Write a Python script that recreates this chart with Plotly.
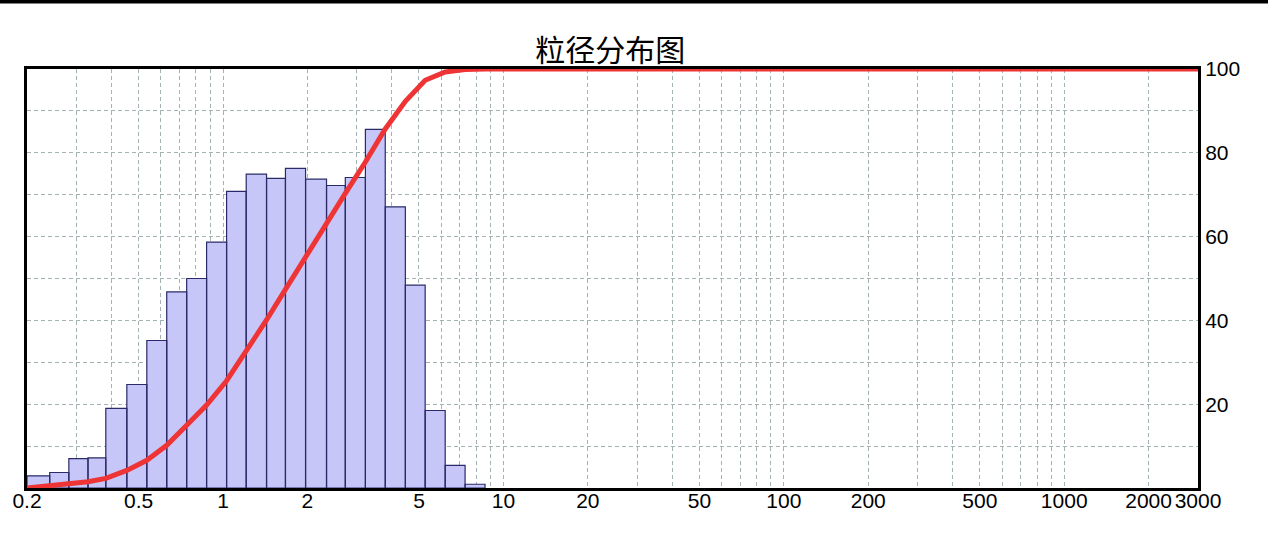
import plotly.graph_objects as go

# ---- data ----
bin_edges = [0.200, 0.241, 0.282, 0.330, 0.382, 0.454, 0.535, 0.630, 0.742, 0.874,
             1.03, 1.21, 1.43, 1.67, 1.97, 2.34, 2.73, 3.22, 3.79, 4.47, 5.26,
             6.20, 7.30, 8.60]
bar_heights = [2.9, 3.7, 7.0, 7.2, 19.0, 24.7, 35.2, 46.8, 50.0, 58.7, 70.8, 74.9,
               73.9, 76.3, 73.7, 72.2, 74.1, 85.6, 67.1, 48.4, 18.5, 5.4, 0.9]
cum_x = bin_edges + [3000]
cum_y = [0, 0.5, 1.0, 1.5, 2.3, 4.2, 6.6, 10.2, 15.0, 19.8, 25.6, 32.6, 40.1, 47.4,
         55.2, 62.8, 70.3, 77.8, 85.7, 92.3, 97.3, 99.3, 99.9, 100, 100]
x_tick_vals = [0.2, 0.5, 1, 2, 5, 10, 20, 50, 100, 200, 500, 1000, 2000, 3000]
x_tick_text = ["0.2", "0.5", "1", "2", "5", "10", "20", "50", "100", "200", "500",
               "1000", "2000", "3000"]
x_grid_vals = [0.3, 0.4, 0.5, 0.6, 0.7, 0.8, 0.9, 1, 2, 3, 4, 5, 6, 7, 8, 9,
               10, 20, 30, 40, 50, 60, 70, 80, 90, 100, 200, 300, 400, 500, 600,
               700, 800, 900, 1000, 2000]
y_tick_vals = [20, 40, 60, 80, 100]
y_minor_vals = [10, 30, 50, 70, 90]
title_text = "粒径分布图"

# ---- build bar polygons ----
bx, by = [], []
for i, h in enumerate(bar_heights):
    x0, x1 = bin_edges[i], bin_edges[i + 1]
    bx += [x0, x0, x1, x1, x0, None]
    by += [0, h, h, 0, 0, None]

GRID = "#a3b3b3"
DASH = "4px,3px"

fig = go.Figure()
fig.add_trace(go.Scatter(
    x=bx, y=by, mode="lines", fill="toself",
    fillcolor="#c6c6f8", line=dict(color="#2a2a68", width=1.2),
    hoverinfo="skip", showlegend=False))
fig.add_trace(go.Scatter(
    x=cum_x, y=cum_y, mode="lines",
    line=dict(color="#ee3434", width=5),
    cliponaxis=False, showlegend=False))

fig.update_layout(
    width=1268, height=546,
    margin=dict(l=23, r=70, t=69, b=58),
    paper_bgcolor="white", plot_bgcolor="white",
    showlegend=False,
    title=dict(text=title_text, x=0.498, xref="paper", y=1 - 50 / 546,
               yref="container", xanchor="center", yanchor="middle",
               font=dict(family="Noto Sans CJK SC", size=30, color="black")),
    font=dict(family="Liberation Sans, Arial", size=21, color="black"),
    xaxis=dict(
        type="log", range=[-0.69897, 3.47712],
        tickmode="array", tickvals=x_tick_vals, ticktext=x_tick_text,
        tickangle=0,
        showgrid=True, gridcolor=GRID, griddash=DASH, gridwidth=1,
        minor=dict(tickvals=x_grid_vals, showgrid=True, gridcolor=GRID,
                   griddash=DASH, gridwidth=1, ticks=""),
        showline=True, mirror=True, linecolor="black", linewidth=3,
        ticks="", zeroline=False, layer="below traces",
        ticklabelstandoff=-8, tickfont=dict(size=21)),
    yaxis=dict(
        side="right", range=[0, 100],
        tickmode="array", tickvals=y_tick_vals,
        showgrid=True, gridcolor=GRID, griddash=DASH, gridwidth=1,
        minor=dict(tickvals=y_minor_vals, showgrid=True, gridcolor=GRID,
                   griddash=DASH, gridwidth=1, ticks=""),
        showline=True, mirror=True, linecolor="black", linewidth=3,
        ticks="", zeroline=False, layer="below traces",
        ticklabelstandoff=0, tickfont=dict(size=21)),
    shapes=[dict(type="line", xref="paper", yref="paper",
                 x0=-0.03, x1=1.07, y0=1.161, y1=1.161,
                 line=dict(color="black", width=4), layer="above")],
)

fig.write_html("out.html", config={"displayModeBar": False},
               post_script="document.body.style.margin='0';document.body.style.overflow='hidden';")
